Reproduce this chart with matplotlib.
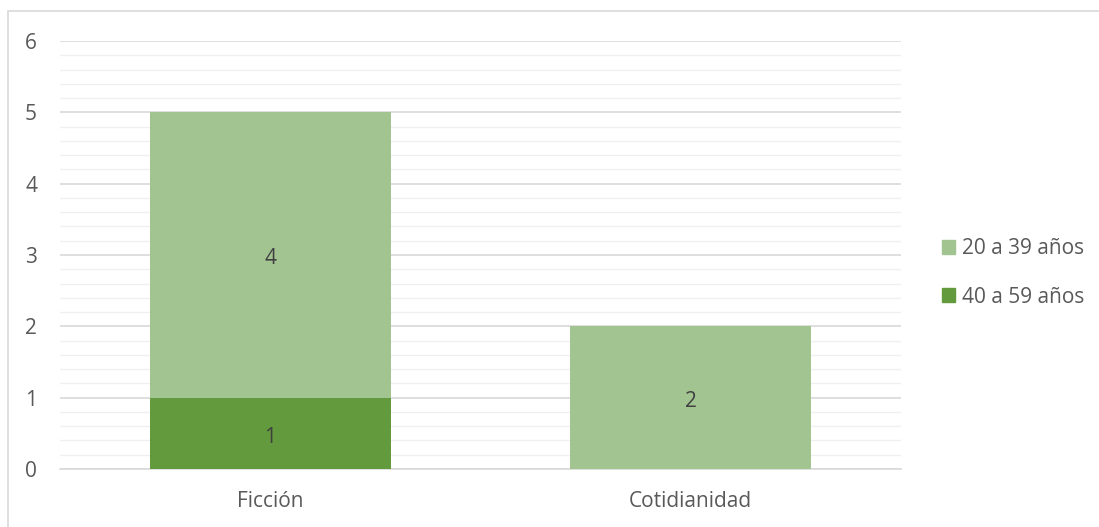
import matplotlib
matplotlib.use("Agg")
import matplotlib.pyplot as plt
from matplotlib.patches import Rectangle, Patch
from matplotlib.transforms import ScaledTranslation
import numpy as np

categories = ["Ficción", "Cotidianidad"]
series_names = ["20 a 39 años", "40 a 59 años"]
vals_40_59 = [1, 0]
vals_20_39 = [4, 2]
yticks = [0, 1, 2, 3, 4, 5, 6]

c_light = "#A2C491"
c_dark = "#629A3D"
txt = "#595959"

plt.rcParams['font.family'] = ['Open Sans', 'DejaVu Sans']
FS = 15

W, H = 1099, 527
fig = plt.figure(figsize=(W / 100, H / 100), dpi=100)
ax = fig.add_axes([60 / W, 1 - 469 / H, (901 - 60) / W, (469 - 41) / H])

x = np.arange(len(categories))
bw = 0.572
b1 = ax.bar(x, vals_40_59, bw, color=c_dark, zorder=3)
b2 = ax.bar(x, vals_20_39, bw, bottom=vals_40_59, color=c_light, zorder=3)

lab_tr = ax.transData + ScaledTranslation(0, -4 / 100, fig.dpi_scale_trans)
for i in range(len(categories)):
    if vals_40_59[i]:
        ax.text(x[i], vals_40_59[i] / 2, str(vals_40_59[i]), ha='center', va='center',
                fontsize=FS, color="#404040", zorder=4, transform=lab_tr)
    if vals_20_39[i]:
        ax.text(x[i], vals_40_59[i] + vals_20_39[i] / 2, str(vals_20_39[i]), ha='center',
                va='center', fontsize=FS, color="#404040", zorder=4, transform=lab_tr)

ax.set_xlim(-0.5, 1.5)
ax.set_ylim(0, 6)
ax.set_yticks(yticks)
ax.set_yticks(np.arange(0, 6.01, 0.2), minor=True)
ax.grid(axis='y', which='major', color='#D9D9D9', linewidth=1.2, zorder=0)
ax.grid(axis='y', which='minor', color='#F0F0F0', linewidth=1.0, zorder=0)
ax.set_xticks(x)
ax.set_xticklabels(categories)
for s in ax.spines.values():
    s.set_visible(False)
ax.spines['bottom'].set_visible(True)
ax.spines['bottom'].set_color('#D9D9D9')
ax.spines['bottom'].set_linewidth(1.2)
ax.tick_params(axis='both', which='both', length=0, colors=txt, labelsize=FS)
ax.tick_params(axis='y', pad=16.5)
ax.tick_params(axis='x', pad=16)

handles = [Patch(color=c_light, label=series_names[0]), Patch(color=c_dark, label=series_names[1])]
leg = fig.legend(handles=handles, loc='center left', bbox_to_anchor=(942 / W, 1 - 273 / H),
                 frameon=False, fontsize=FS, handlelength=0.62, handleheight=0.62,
                 handletextpad=0.33, labelspacing=1.3, borderpad=0, borderaxespad=0)
for t in leg.get_texts():
    t.set_color(txt)

fig.patches.append(Rectangle((8 / W, -2 / H), (1102 - 8) / W, (516 + 2) / H,
                             transform=fig.transFigure, fill=False, edgecolor='#D9D9D9',
                             linewidth=1.2))
fig.savefig("out.png", dpi=100)
